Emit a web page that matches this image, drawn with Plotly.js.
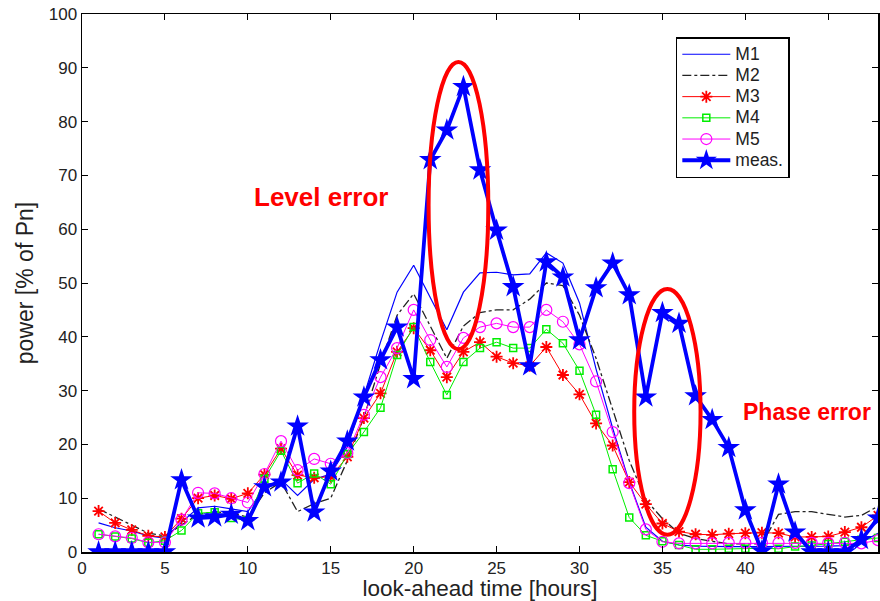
<!DOCTYPE html>
<html>
<head>
<meta charset="utf-8">
<script src="https://cdn.plot.ly/plotly-3.0.1.min.js"></script>
<style>html,body{margin:0;padding:0;background:#fff;}#chart{width:880px;height:601px;}</style>
</head>
<body>
<div id="chart"></div>
<script>
const hours = [1,2,3,4,5,6,7,8,9,10,11,12,13,14,15,16,17,18,19,20,21,22,23,24,25,26,27,28,29,30,31,32,33,34,35,36,37,38,39,40,41,42,43,44,45,46,47,48];

const m1 = [5.4,4.5,3.9,3,2.6,5.5,8.2,8.5,8,7.5,12,13.5,10.5,13.5,14.5,19.5,29,39,48.3,53.3,47.3,41.3,48.3,51.9,52,51.5,51.7,55.6,53.7,46.3,34,23,13,4.6,2,1.3,1.1,1,1,1,1,1,1,1,1.1,1.2,1.8,3.5];
const m2 = [8,6.5,5,3.5,3,5,7,7.5,7.2,6.5,11,13,7.5,9,10,17,25,35,44,48,42,36,42,44.5,45,45,47,50,49.5,44,36,26.5,17,9.7,6.2,3.5,2.5,2,1.5,1.5,1.5,7,7.5,7.5,7,6.5,6.8,8.5];
const m3 = [7.6,5.4,4.1,3,2.8,6.2,10,10.5,9.9,10.9,14.4,19.2,14.3,13.8,14,17.7,24.9,29.5,37.2,41.6,37.5,32.5,37.2,39,36.3,35.1,34.6,38.1,32.9,29.3,23.9,19.8,13,8.9,5.3,3.8,3.3,3.2,3.4,3.5,3.6,3.5,2.8,2.8,2.9,3.7,4.6,6.8];
const m4 = [3.3,2.9,2.5,1.7,2.1,4,7.2,7.4,6.3,5.9,13.6,18.8,12.8,14.6,12.6,18.2,22.3,26.8,36.6,41.8,35.3,29.2,35.3,37.9,39,37.9,37.9,41.4,38.8,33.7,25.5,15.4,6.4,3.1,2,1.3,0.5,0.5,0.6,0.6,0.7,0.6,1,1.2,1.5,1.9,2.3,2.6];
const m5 = [3.3,2.9,2.6,1.8,1.8,6,11,10.9,10,9.2,14.5,20.6,15.2,17.3,16.4,18.4,25.5,32.5,37.9,45,39.4,34.4,39.8,41.8,42.5,41.8,41.8,45,42.8,38.6,31.7,22.3,12.8,4.2,1.9,1.6,1.6,1.6,1.7,1.7,1.7,1.7,1.7,1.7,1.7,1.7,1.6,2.2];
const meas = [0,0,0,0,0,13.4,6.3,6.5,7,5.8,12.1,13,23.4,7.4,15,20.6,28.8,35.7,41.8,32.2,72.9,78.4,86.5,71,59.8,49.3,34.6,53.9,51.1,39.4,49.1,53.7,47.8,28.8,44.5,42.5,29,24.6,19.4,7.8,0.2,12.6,3.7,0,0,0,2.3,6.3];

const seriesNames = ["M1","M2","M3","M4","M5","meas."];
const xTicks = [0,5,10,15,20,25,30,35,40,45];
const yTicks = [0,10,20,30,40,50,60,70,80,90,100];

const levelNote = {text: "Level error", x: 14.4, y: 66};
const phaseNote = {text: "Phase error", x: 43.7, y: 26};
const levelEllipse = {x0: 20.9, x1: 24.5, y0: 37.7, y1: 91.1};
const phaseEllipse = {x0: 33.3, x1: 37.3, y0: 3.2, y1: 48.9};

function legendName(s) { return '<span style="font-size:17.5px">' + s + '</span>'; }

const traces = [
  {x: hours, y: m1, name: legendName(seriesNames[0]), mode: "lines", line: {color: "#0000ff", width: 1.2}},
  {x: hours, y: m2, name: legendName(seriesNames[1]), mode: "lines", line: {color: "#222222", width: 1.3, dash: "dashdot"}},
  {x: hours, y: m3, name: legendName(seriesNames[2]), mode: "lines+markers", line: {color: "#ff0000", width: 1},
   marker: {symbol: "asterisk-open", size: 10, color: "#ff0000", line: {color: "#ff0000", width: 1.8}}},
  {x: hours, y: m4, name: legendName(seriesNames[3]), mode: "lines+markers", line: {color: "#00ee00", width: 1},
   marker: {symbol: "square-open", size: 7, color: "#00ee00", line: {color: "#00ee00", width: 1.5}}},
  {x: hours, y: m5, name: legendName(seriesNames[4]), mode: "lines+markers", line: {color: "#ff00ff", width: 1},
   marker: {symbol: "circle-open", size: 11, color: "#ff00ff", line: {color: "#ff00ff", width: 1.2}}},
  {x: hours, y: meas, name: legendName(seriesNames[5]), mode: "lines+markers", line: {color: "#0000ff", width: 3.8},
   marker: {symbol: "star", size: 17, color: "#0000ff"}}
];

const layout = {
  width: 880, height: 601,
  margin: {l: 82, r: 2, t: 14, b: 49},
  paper_bgcolor: "#ffffff", plot_bgcolor: "#ffffff",
  font: {family: "Liberation Sans, Arial, sans-serif", color: "#222222", size: 16},
  showlegend: true,
  legend: {x: 0.746, y: 0.957, xanchor: "left", yanchor: "top", bgcolor: "#ffffff",
           bordercolor: "#000000", borderwidth: 1.5, font: {size: 14, color: "#222222"},
           tracegroupgap: 0, itemwidth: 48},
  xaxis: {range: [0, 48], tickvals: xTicks, ticks: "inside", ticklen: 6, tickcolor: "#000",
          showgrid: false, zeroline: false, showline: true, linecolor: "#000", linewidth: 1.5,
          mirror: "ticks", tickfont: {size: 17}, title: {text: "look-ahead time [hours]", font: {size: 22.5}, standoff: 6}},
  yaxis: {range: [0, 100], tickvals: yTicks, ticks: "inside", ticklen: 6, tickcolor: "#000",
          showgrid: false, zeroline: false, showline: true, linecolor: "#000", linewidth: 1.5,
          mirror: "ticks", tickfont: {size: 17}, title: {text: "power [% of Pn]", font: {size: 23}, standoff: 8}},
  shapes: [
    {type: "circle", xref: "x", yref: "y", x0: levelEllipse.x0, x1: levelEllipse.x1, y0: levelEllipse.y0, y1: levelEllipse.y1,
     line: {color: "#ff0000", width: 4}},
    {type: "circle", xref: "x", yref: "y", x0: phaseEllipse.x0, x1: phaseEllipse.x1, y0: phaseEllipse.y0, y1: phaseEllipse.y1,
     line: {color: "#ff0000", width: 4}}
  ],
  annotations: [
    {x: levelNote.x, y: levelNote.y, xref: "x", yref: "y", text: "<b>" + levelNote.text + "</b>", showarrow: false,
     font: {size: 26, color: "#ff0000", family: "Liberation Sans, Arial, sans-serif"}},
    {x: phaseNote.x, y: phaseNote.y, xref: "x", yref: "y", text: "<b>" + phaseNote.text + "</b>", showarrow: false,
     font: {size: 23, color: "#ff0000", family: "Liberation Sans, Arial, sans-serif"}}
  ]
};

Plotly.newPlot("chart", traces, layout, {displayModeBar: false, staticPlot: true});
</script>
</body>
</html>
